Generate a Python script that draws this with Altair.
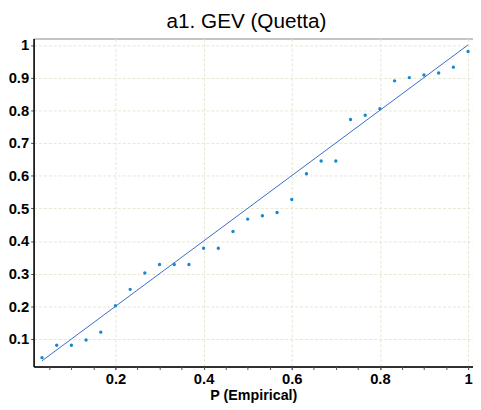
import altair as alt
import pandas as pd

p_emp = [i / 30 for i in range(1, 31)]
p_gev = [0.043, 0.081, 0.081, 0.097, 0.121, 0.202, 0.252, 0.302, 0.328, 0.328,
         0.328, 0.378, 0.378, 0.429, 0.467, 0.477, 0.487, 0.527, 0.606, 0.645,
         0.645, 0.772, 0.785, 0.805, 0.890, 0.900, 0.908, 0.914, 0.932, 0.980]
line_x = [1 / 30, 1.0]
line_y = [1 / 30, 1.0]

pts = pd.DataFrame({"P": p_emp, "F": p_gev})
ln = pd.DataFrame({"P": line_x, "F": line_y})

x_major = [0.2, 0.4, 0.6, 0.8, 1.0]
x_minor = [round(0.05 * i, 2) for i in range(1, 21)]
y_ticks = [round(0.1 * i, 1) for i in range(1, 11)]

FONT = "Liberation Sans"
xscale = alt.Scale(domain=[0.0143, 1.0112], nice=False, zero=False)
yscale = alt.Scale(domain=[0.0157, 1.0196], nice=False, zero=False)

xaxis = alt.Axis(values=x_major, title="P (Empirical)", format=".1~f", tickSize=3,
                 labelOverlap=False, orient="bottom")
xminor = alt.Axis(values=x_minor, title=None, labels=False, grid=False, domain=False,
                  tickSize=3, orient="bottom")
yaxis = alt.Axis(values=y_ticks, title=None, format=".1~f", tickSize=3, labelOverlap=False)

line = alt.Chart(ln).mark_line(color="#3a6bc8", strokeWidth=1).encode(
    x=alt.X("P:Q", scale=xscale, axis=xaxis),
    y=alt.Y("F:Q", scale=yscale, axis=yaxis),
)
points = alt.Chart(pts).mark_circle(color="#1688cc", size=12, opacity=1).encode(
    x=alt.X("P:Q", scale=xscale, axis=xminor),
    y=alt.Y("F:Q", scale=yscale, axis=yaxis),
)

chart = (
    alt.layer(line, points)
    .resolve_axis(x="independent")
    .properties(
        width=446,
        height=333,
        autosize=alt.AutoSizeParams(type="none"),
        padding={"left": 26, "top": 28, "right": 0, "bottom": 34},
        title=alt.TitleParams("a1. GEV (Quetta)", fontSize=21, font=FONT, fontWeight="normal",
                              color="black", offset=6, dx=-7),
    )
    .configure_view(stroke="#888888", strokeWidth=1)
    .configure_axis(
        labelFont=FONT, labelFontSize=15, labelFontWeight="bold", labelColor="black",
        titleFont=FONT, titleFontSize=14.5, titleFontWeight="bold", titleColor="black",
        domainColor="black", domainWidth=1.5, tickColor="#555555",
        gridColor="#e6e6d2", gridDash=[3, 2], gridWidth=1, labelPadding=2, titlePadding=2,
    )
)

chart.save("out.html", embed_options={"renderer": "svg", "actions": False})
